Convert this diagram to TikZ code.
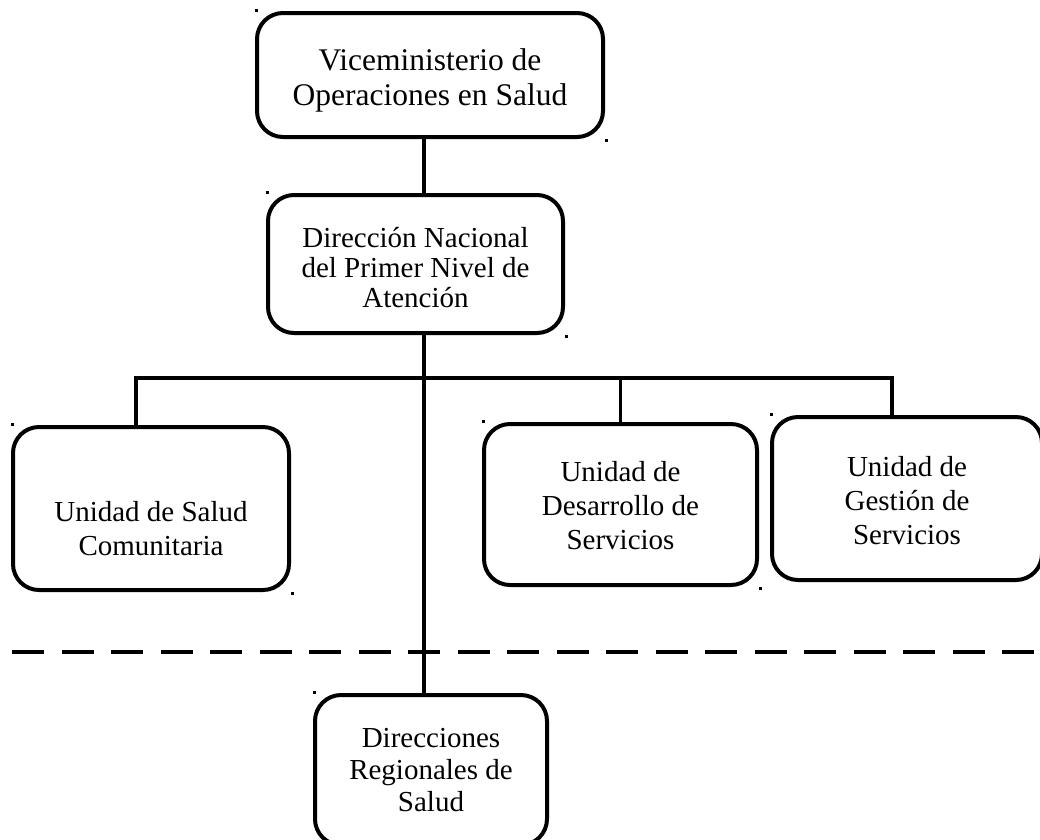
\documentclass[tikz,border=0pt]{standalone}
\usepackage{fontspec}
\setmainfont{Liberation Serif}
\newcommand\boxlines[2][3pt]{\raisebox{-#1}[\height][\depth]{\begin{tabular}{@{}c@{}}#2\end{tabular}}}
\tikzset{
  unitbox/.style={draw,line width=4pt,rounded corners=26pt,inner sep=0pt,
    font=\fontsize{29}{34}\selectfont},
  link/.style={line width=3.5pt},
  divider/.style={line width=4.5pt,dash pattern=on 32pt off 17.5pt}
}

\begin{document}
\begin{tikzpicture}[x=1pt,y=-1pt]
        \useasboundingbox (0,0) rectangle (1040,839);
        % boxes
        \node[unitbox,minimum width=346pt,minimum height=124pt,font=\fontsize{31.5}{35}\selectfont]
              (vice) at (430,75) {\boxlines[6pt]{Viceministerio de\\Operaciones en Salud}};
        \node[unitbox,minimum width=295pt,minimum height=138pt,font=\fontsize{29}{30}\selectfont]
              (dnp) at (415.5,264) {\boxlines[7.5pt]{Direcci\'on Nacional\\del Primer Nivel de\\Atenci\'on}};
        \node[unitbox,minimum width=276pt,minimum height=163pt]
              (salud) at (151,508.5) {\boxlines[23pt]{Unidad de Salud\\Comunitaria}};
        \node[unitbox,minimum width=273pt,minimum height=161pt]
              (desarrollo) at (620.5,504.5) {\boxlines[4pt]{Unidad de\\Desarrollo de\\Servicios}};
        \node[unitbox,minimum width=270pt,minimum height=163pt]
              (gestion) at (907,498.5) {\boxlines[5pt]{Unidad de\\Gesti\'on de\\Servicios}};
        \node[unitbox,minimum width=232pt,minimum height=150pt,font=\fontsize{29}{32}\selectfont]
              (direcciones) at (431,770) {\boxlines{Direcciones\\Regionales de\\Salud}};

        % connectors
        \coordinate (spine) at (424,0);
        \coordinate (busL) at (136,378);
        \coordinate (busR) at (892,378);
        \draw[link] (spine |- vice.south) -- (spine |- dnp.north);
        \draw[link] (spine |- dnp.south) -- (spine |- direcciones.north);
        \draw[link] (busL |- salud.north) -- (busL) -- (busR) -- (busR |- gestion.north);
        \draw[link] (desarrollo.north |- busL) -- (desarrollo.north);

        % separator
        \coordinate (sepL) at (12,652);
        \coordinate (sepR) at (1040,652);
        \draw[divider] (sepL) -- (sepR);

        % corner marks
        \foreach \n in {vice,dnp,salud,desarrollo,gestion,direcciones}
          \fill ([shift={(0,-2)}]\n.north west) rectangle +(3,3);
        \foreach \n in {vice,dnp,salud,desarrollo}
          \fill ([shift={(0,0)}]\n.south east) rectangle +(3,3);
      \end{tikzpicture}
\end{document}
